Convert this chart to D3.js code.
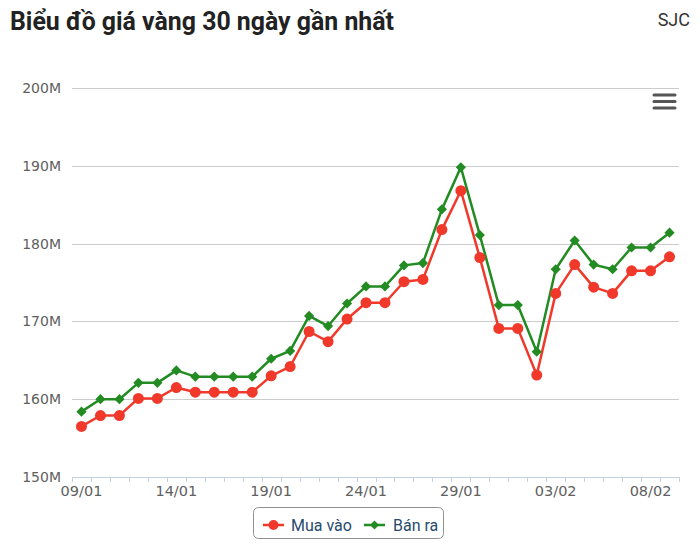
<!DOCTYPE html>
<html>
<head>
<meta charset="utf-8">
<script src="https://cdn.jsdelivr.net/npm/d3@7"></script>
<style>
html,body{margin:0;padding:0;background:#fff;}
svg{display:block;}
</style>
</head>
<body>
<svg id="chart" width="700" height="549"></svg>
<script>
const categories = ["09/01","10/01","11/01","12/01","13/01","14/01","15/01","16/01","17/01","18/01","19/01","20/01","21/01","22/01","23/01","24/01","25/01","26/01","27/01","28/01","29/01","30/01","31/01","01/02","02/02","03/02","04/02","05/02","06/02","07/02","08/02","09/02"];
const muaVao = [156.5,157.9,157.9,160.1,160.1,161.5,160.9,160.9,160.9,160.9,163.0,164.2,168.7,167.4,170.3,172.4,172.4,175.1,175.4,181.8,186.8,178.2,169.1,169.1,163.1,173.6,177.3,174.4,173.6,176.5,176.5,178.3];
const banRa = [158.4,160.0,160.0,162.1,162.1,163.7,162.9,162.9,162.9,162.9,165.2,166.2,170.7,169.4,172.3,174.5,174.5,177.2,177.5,184.4,189.8,181.1,172.1,172.1,166.1,176.7,180.4,177.3,176.7,179.5,179.5,181.4];
const yTicks = [150,160,170,180,190,200];
const seriesNames = ["Mua vào","Bán ra"];
const seriesColors = ["#f0392b","#228b22"];

const svg = d3.select("#chart");
const pLeft = 72, pRight = 679, pTop = 88, pBottom = 477;

const x = d3.scaleBand().domain(categories).range([pLeft, pRight]).padding(0);
const y = d3.scaleLinear().domain([150,200]).range([pBottom, pTop]);
const cx = d => x(d) + x.bandwidth()/2;

// title
svg.append("text").attr("x",10).attr("y",30)
  .attr("font-family","Roboto, sans-serif").attr("font-weight","bold").attr("font-size",25)
  .attr("fill","#222").attr("textLength",384).attr("lengthAdjust","spacingAndGlyphs")
  .text("Biểu đồ giá vàng 30 ngày gần nhất");
svg.append("text").attr("x",690).attr("y",26).attr("text-anchor","end")
  .attr("font-family","Roboto, sans-serif").attr("font-size",18).attr("fill","#333")
  .text("SJC");

// gridlines
svg.append("g").selectAll("line").data(yTicks.slice(1)).join("line")
  .attr("x1",pLeft).attr("x2",pRight)
  .attr("y1",d=>Math.round(y(d))+0.5).attr("y2",d=>Math.round(y(d))+0.5)
  .attr("stroke","#cccccc").attr("stroke-width",1);

// y labels
svg.append("g").selectAll("text").data(yTicks).join("text")
  .attr("x",61).attr("y",d=>y(d)+5).attr("text-anchor","end")
  .attr("font-family","DejaVu Sans, sans-serif").attr("font-size",14).attr("fill","#606060")
  .text(d=>d+"M");

// x axis line and ticks
const ax = svg.append("g");
ax.append("line").attr("x1",pLeft).attr("x2",pRight).attr("y1",pBottom+0.5).attr("y2",pBottom+0.5)
  .attr("stroke","#c0d0e0").attr("stroke-width",1);
const boundaries = categories.map(c=>x(c)).concat([pRight]);
ax.selectAll("line.tick").data(boundaries).join("line").attr("class","tick")
  .attr("x1",d=>Math.round(d)+0.5).attr("x2",d=>Math.round(d)+0.5)
  .attr("y1",pBottom).attr("y2",pBottom+5)
  .attr("stroke","#c0d0e0").attr("stroke-width",1);
ax.selectAll("text").data(categories.filter((c,i)=>i%5===0)).join("text")
  .attr("x",d=>cx(d)).attr("y",496).attr("text-anchor","middle")
  .attr("font-family","DejaVu Sans, sans-serif").attr("font-size",14.5).attr("fill","#606060")
  .text(d=>d);

// series
const series = [muaVao, banRa];
const line = d3.line().x((v,i)=>cx(categories[i])).y(v=>y(v));
series.forEach((s,k)=>{
  svg.append("path").datum(s).attr("d",line).attr("fill","none")
    .attr("stroke",seriesColors[k]).attr("stroke-width",2.5).attr("stroke-linejoin","round");
});
// markers
svg.append("g").selectAll("circle").data(muaVao).join("circle")
  .attr("cx",(v,i)=>cx(categories[i])).attr("cy",v=>y(v)).attr("r",5.5)
  .attr("fill",seriesColors[0]);
const diamond = d3.symbol().type(d3.symbolSquare).size(52);
svg.append("g").selectAll("path").data(banRa).join("path")
  .attr("d",diamond())
  .attr("transform",(v,i)=>`translate(${cx(categories[i])},${y(v)}) rotate(45)`)
  .attr("fill",seriesColors[1]);

// hamburger
[95,101.5,108].forEach(yy=>{
  svg.append("line").attr("x1",654).attr("x2",675).attr("y1",yy).attr("y2",yy)
    .attr("stroke","#555").attr("stroke-width",3).attr("stroke-linecap","round");
});

// legend
const lg = svg.append("g");
lg.append("rect").attr("x",253.5).attr("y",507.5).attr("width",190).attr("height",31).attr("rx",5)
  .attr("fill","#fff").attr("stroke","#909090").attr("stroke-width",1);
const legendItems = [{lx:263, tx:291},{lx:364, tx:393}];
legendItems.forEach((it,k)=>{
  lg.append("line").attr("x1",it.lx).attr("x2",it.lx+21).attr("y1",525).attr("y2",525)
    .attr("stroke",seriesColors[k]).attr("stroke-width",2.5);
  if(k===0){
    lg.append("circle").attr("cx",it.lx+10.5).attr("cy",525).attr("r",5).attr("fill",seriesColors[0]);
  } else {
    lg.append("path").attr("d",d3.symbol().type(d3.symbolSquare).size(40)())
      .attr("transform",`translate(${it.lx+10.5},525) rotate(45)`).attr("fill",seriesColors[1]);
  }
  lg.append("text").attr("x",it.tx).attr("y",531)
    .attr("font-family","Roboto, sans-serif").attr("font-size",16).attr("fill","#274b6d")
    .text(seriesNames[k]);
});
</script>
</body>
</html>
